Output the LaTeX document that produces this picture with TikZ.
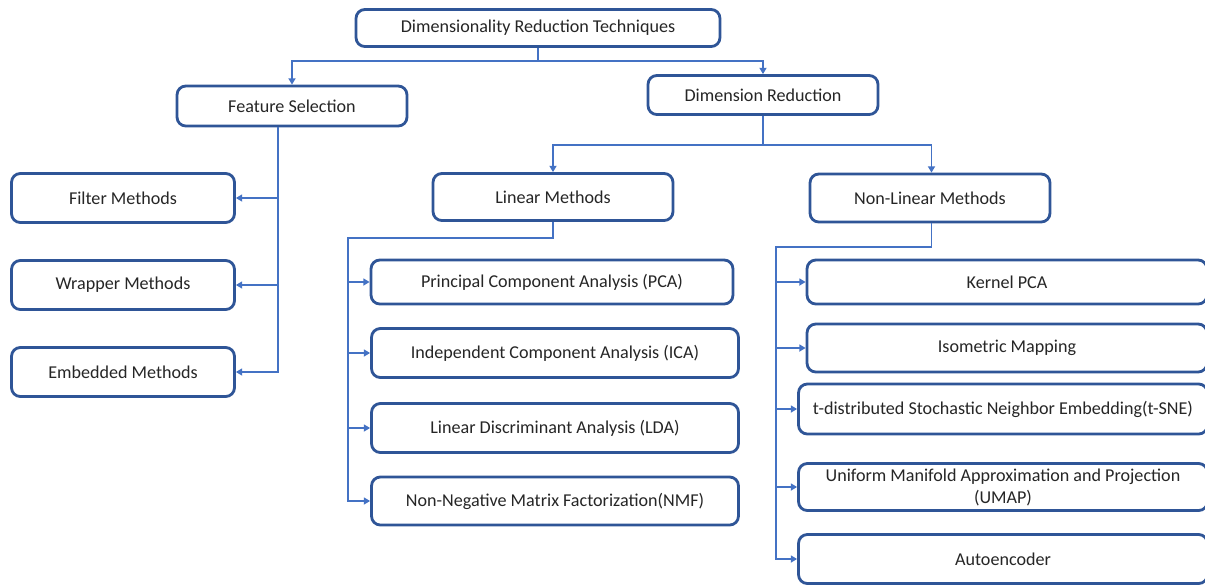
\documentclass[tikz,border=0pt]{standalone}
\usepackage{fontspec}
\setmainfont{Carlito}
\usepackage{xcolor}
\definecolor{boxblue}{HTML}{2F5597}
\definecolor{linkblue}{HTML}{4472C4}
\definecolor{inkgray}{HTML}{262626}
\usepackage{tikz}
\usetikzlibrary{arrows.meta, positioning}

\begin{document}
\begin{tikzpicture}[x=0.02cm, y=-0.02cm,
    box/.style={draw=boxblue, line width=1.6pt, rounded corners=5pt, fill=white,
      align=center, inner sep=2pt, text=inkgray,
      font=\fontsize{10.3}{12.5}\selectfont},
    link/.style={draw=linkblue, line width=0.9pt, -{Triangle[length=3.6pt,width=4pt]}}]
  \useasboundingbox (0,0) rectangle (1205,586);

  % Root
  \node[box, minimum width=7.28cm, minimum height=0.74cm] (root) at (538,28) {Dimensionality Reduction Techniques};

  % Two main branches
  \node[box, minimum width=4.6cm, minimum height=0.8cm] (fs) at (292,106) {Feature Selection};
  \node[box, minimum width=4.6cm, minimum height=0.78cm] (dr) at (763,95) {Dimension Reduction};

  % Feature selection methods
  \node[box, minimum width=4.46cm, minimum height=0.98cm] (filter) at (123,198) {Filter Methods};
  \node[box, minimum width=4.46cm, minimum height=0.98cm] (wrapper) at (123,285) {Wrapper Methods};
  \node[box, minimum width=4.46cm, minimum height=0.98cm] (embedded) at (123,372) {Embedded Methods};

  % Linear / non-linear
  \node[box, minimum width=4.8cm, minimum height=0.94cm] (lin) at (553,197) {Linear Methods};
  \node[box, minimum width=4.8cm, minimum height=0.96cm] (nonlin) at (930,198) {Non-Linear Methods};

  % Linear methods
  \node[box, minimum width=7.24cm, minimum height=0.88cm] (pca) at (552,282) {Principal Component Analysis (PCA)};
  \node[box, minimum width=7.34cm, minimum height=0.98cm] (ica) at (555,353) {Independent Component Analysis (ICA)};
  \node[box, minimum width=7.34cm, minimum height=0.98cm] (lda) at (555,428) {Linear Discriminant Analysis (LDA)};
  \node[box, minimum width=7.34cm, minimum height=0.96cm] (nmf) at (555,501) {Non-Negative Matrix Factorization(NMF)};

  % Non-linear methods (cut by the right edge)
  \node[box, minimum width=8.0cm, minimum height=0.88cm] (kpca) at (1007,282) {Kernel PCA};
  \node[box, minimum width=8.0cm, minimum height=0.96cm] (iso) at (1007,348) {Isometric Mapping};
  \node[box, minimum width=8.18cm, minimum height=1.0cm] (tsne) at (1003,409) {t-distributed Stochastic Neighbor Embedding(t-SNE)};
  \node[box, minimum width=8.18cm, minimum height=0.94cm] (umap) at (1003,487) {Uniform Manifold Approximation and Projection\\(UMAP)};
  \node[box, minimum width=8.18cm, minimum height=0.98cm] (auto) at (1003,559) {Autoencoder};

  % Root to branches
  \coordinate (rootbus) at (538,61);
  \draw[link] (root.south) -- (rootbus) -| (fs.north);
  \draw[link] (rootbus) -| (dr.north);

  % Feature selection spine
  \coordinate (fsspine) at ([xshift=-0.28cm]fs.south);
  \foreach \t in {filter,wrapper,embedded}
    \draw[link] (fsspine) |- (\t.east);

  % Dimension reduction to linear / non-linear
  \coordinate (drbus) at (763,145);
  \draw[link] (dr.south) -- (drbus) -| (lin.north);
  \draw[link] (drbus) -| ([xshift=0.03cm]nonlin.north);

  % Linear spine
  \coordinate (linbus) at (348,238);
  \foreach \t in {pca,ica,lda,nmf}
    \draw[link] (lin.south) |- (linbus) |- (\t.west);

  % Non-linear spine
  \coordinate (nonbus) at (776,247);
  \foreach \t in {kpca,iso,tsne,umap,auto}
    \draw[link] ([xshift=0.03cm]nonlin.south) |- (nonbus) |- (\t.west);
\end{tikzpicture}
\end{document}
